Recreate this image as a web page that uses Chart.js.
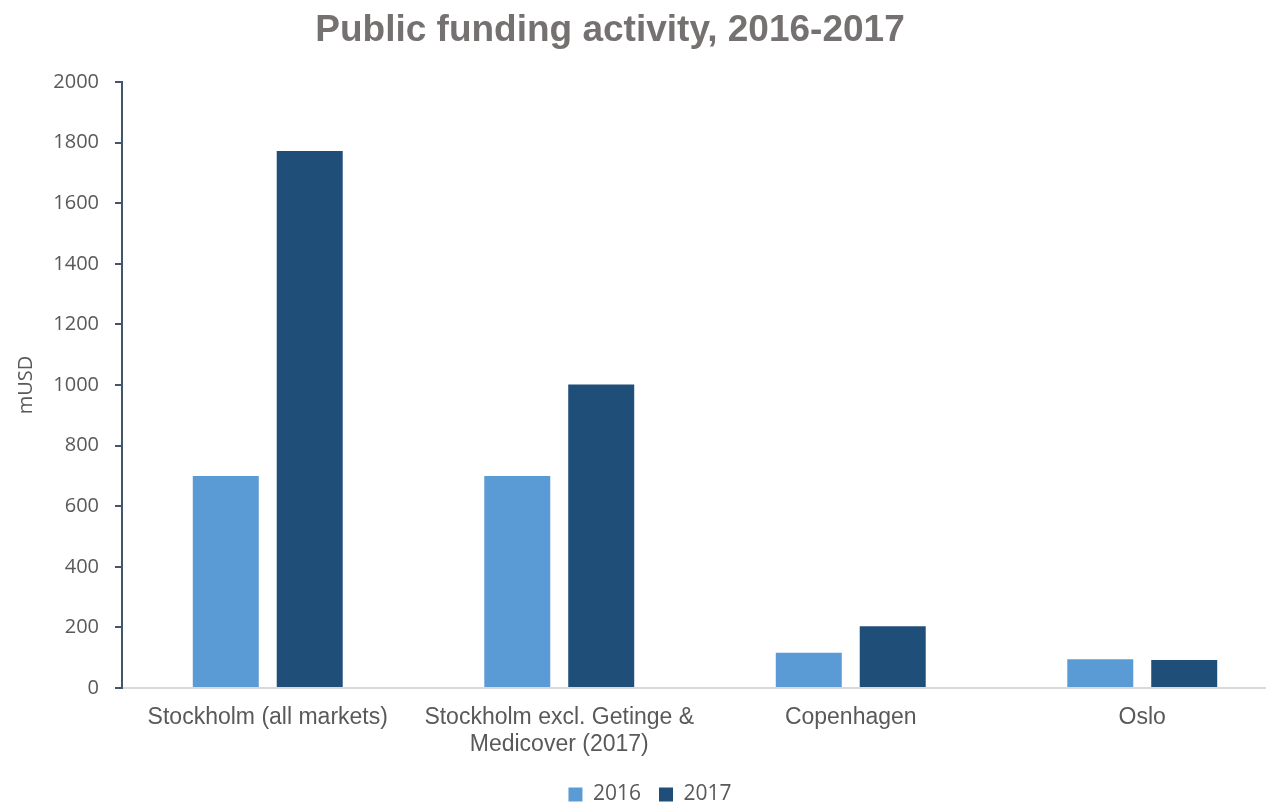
<!DOCTYPE html>
<html>
<head>
<meta charset="utf-8">
<script src="https://cdn.jsdelivr.net/npm/chart.js@4.4.1/dist/chart.umd.min.js"></script>
<style>
  html, body { margin: 0; padding: 0; background: #ffffff; overflow: hidden; }
  #wrap { position: relative; width: 1290px; height: 803px; }
</style>
</head>
<body>
<div id="wrap"><canvas id="chart"></canvas></div>
<script>
// Public funding raised per market, million USD
const categories = [
  'Stockholm (all markets)',
  ['Stockholm excl. Getinge &', 'Medicover (2017)'],
  'Copenhagen',
  'Oslo'
];
const seriesNames = ['2016', '2017'];
const values2016 = [700, 700, 116, 95];
const values2017 = [1772, 1002, 204, 92];
const yTicks = [0, 200, 400, 600, 800, 1000, 1200, 1400, 1600, 1800, 2000];

const titleText = 'Public funding activity, 2016-2017';

// Title drawn left of canvas centre, above the plot
const titlePlugin = {
  id: 'offsetTitle',
  afterDraw(chart) {
    const ctx = chart.ctx;
    ctx.save();
    ctx.font = 'bold 37px "Liberation Sans", Arial, sans-serif';
    ctx.fillStyle = '#767171';
    ctx.textAlign = 'center';
    ctx.textBaseline = 'alphabetic';
    ctx.fillText(titleText, 610, 41);
    ctx.restore();
  }
};

new Chart(document.getElementById('chart'), {
  type: 'bar',
  data: {
    labels: categories,
    datasets: [
      { label: seriesNames[0], data: values2016, backgroundColor: '#5B9BD5',
        barPercentage: 0.786, categoryPercentage: 0.576 },
      { label: seriesNames[1], data: values2017, backgroundColor: '#1F4E79',
        barPercentage: 0.786, categoryPercentage: 0.576 }
    ]
  },
  options: {
    responsive: true,
    maintainAspectRatio: false,
    animation: false,
    layout: { padding: { top: 82, left: 12, right: 2, bottom: -12 } },
    plugins: {
      title: { display: false },
      tooltip: { enabled: false },
      legend: {
        position: 'bottom',
        labels: {
          boxWidth: 14,
          boxHeight: 14,
          padding: 18,
          color: '#595959',
          font: { family: '"Open Sans", sans-serif', size: 21 }
        }
      }
    },
    scales: {
      x: {
        grid: { display: false },
        border: { color: '#D9D9D9', width: 2 },
        ticks: {
          color: '#595959',
          padding: 8,
          maxRotation: 0,
          autoSkip: false,
          font: { family: '"Liberation Sans", Arial, sans-serif', size: 23, lineHeight: 1.17 }
        },
        afterFit(scale) { scale.height = 78; }
      },
      y: {
        min: 0,
        max: 2000,
        afterBuildTicks(scale) { scale.ticks = yTicks.map(v => ({ value: v })); },
        grid: {
          display: true,
          drawOnChartArea: false,
          drawTicks: true,
          tickLength: 7,
          color: '#44546A',
          lineWidth: 2
        },
        border: { color: '#44546A', width: 2 },
        ticks: {
          color: '#595959',
          padding: 16,
          font: { family: '"Open Sans", sans-serif', size: 20 },
          callback: (v) => String(v)
        },
        title: {
          display: true,
          text: 'mUSD',
          color: '#595959',
          padding: { top: 2, bottom: 0 },
          font: { family: '"Open Sans", sans-serif', size: 20 }
        },
        afterFit(scale) { scale.width = 110; }
      }
    }
  },
  plugins: [titlePlugin]
});
</script>
</body>
</html>
